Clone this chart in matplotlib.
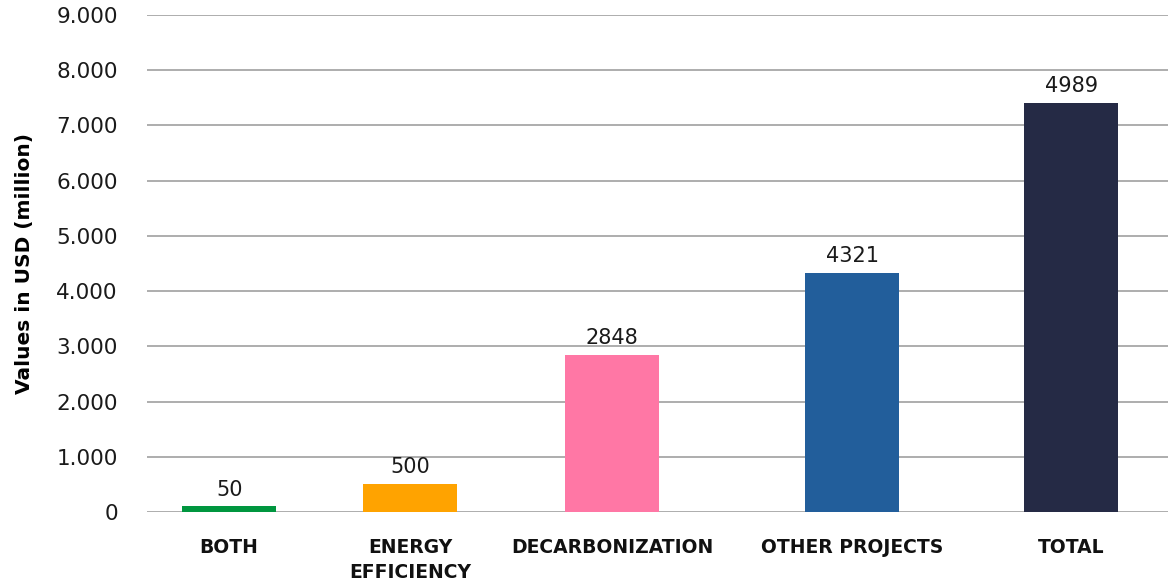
import matplotlib.pyplot as plt

# data
categories = ["BOTH", "ENERGY\nEFFICIENCY", "DECARBONIZATION", "OTHER PROJECTS", "TOTAL"]
bar_heights = [100, 500, 2848, 4321, 7400]
bar_labels = ["50", "500", "2848", "4321", "4989"]
colors = ["#00963F", "#FFA300", "#FF77A5", "#225E9B", "#252A45"]
y_ticks = [0, 1000, 2000, 3000, 4000, 5000, 6000, 7000, 8000, 9000]
y_tick_labels = ["0", "1.000", "2.000", "3.000", "4.000", "5.000",
                 "6.000", "7.000", "8.000", "9.000"]

# layout: uneven bar spacing as in the original
x_pos = [0.0, 0.86, 1.82, 2.96, 4.0]

plt.rcParams['font.family'] = ['DejaVu Sans']

fig = plt.figure(figsize=(11.68, 5.86), dpi=100)
ax = fig.add_axes([0.1259, 0.1263, 0.8741, 0.8481])

ax.bar(x_pos, bar_heights, width=0.447, color=colors, zorder=3)

for x, h, lab in zip(x_pos, bar_heights, bar_labels):
    ax.annotate(lab, (x, h), xytext=(0, 5), textcoords='offset points',
                ha='center', va='bottom', fontsize=15, color='#1a1a1a')

ax.set_ylim(0, 9000)
ax.set_xlim(-0.39, 4.46)
ax.set_yticks(y_ticks)
ax.set_yticklabels(y_tick_labels, fontsize=15.5, color='#1a1a1a')
ax.set_xticks(x_pos)
ax.set_xticklabels(categories, fontsize=13.5, fontweight='bold', color='#111111',
                   linespacing=1.35, va='top')
ax.tick_params(axis='y', length=0, pad=21)
ax.tick_params(axis='x', length=0, pad=19)

ax.grid(axis='y', color='#A0A0A0', linewidth=1.2, zorder=0)
for s in ax.spines.values():
    s.set_visible(False)

ax.set_ylabel("Values in USD (million)", fontsize=14.5, fontweight='bold', labelpad=16)

fig.savefig("out.png", dpi=100)
